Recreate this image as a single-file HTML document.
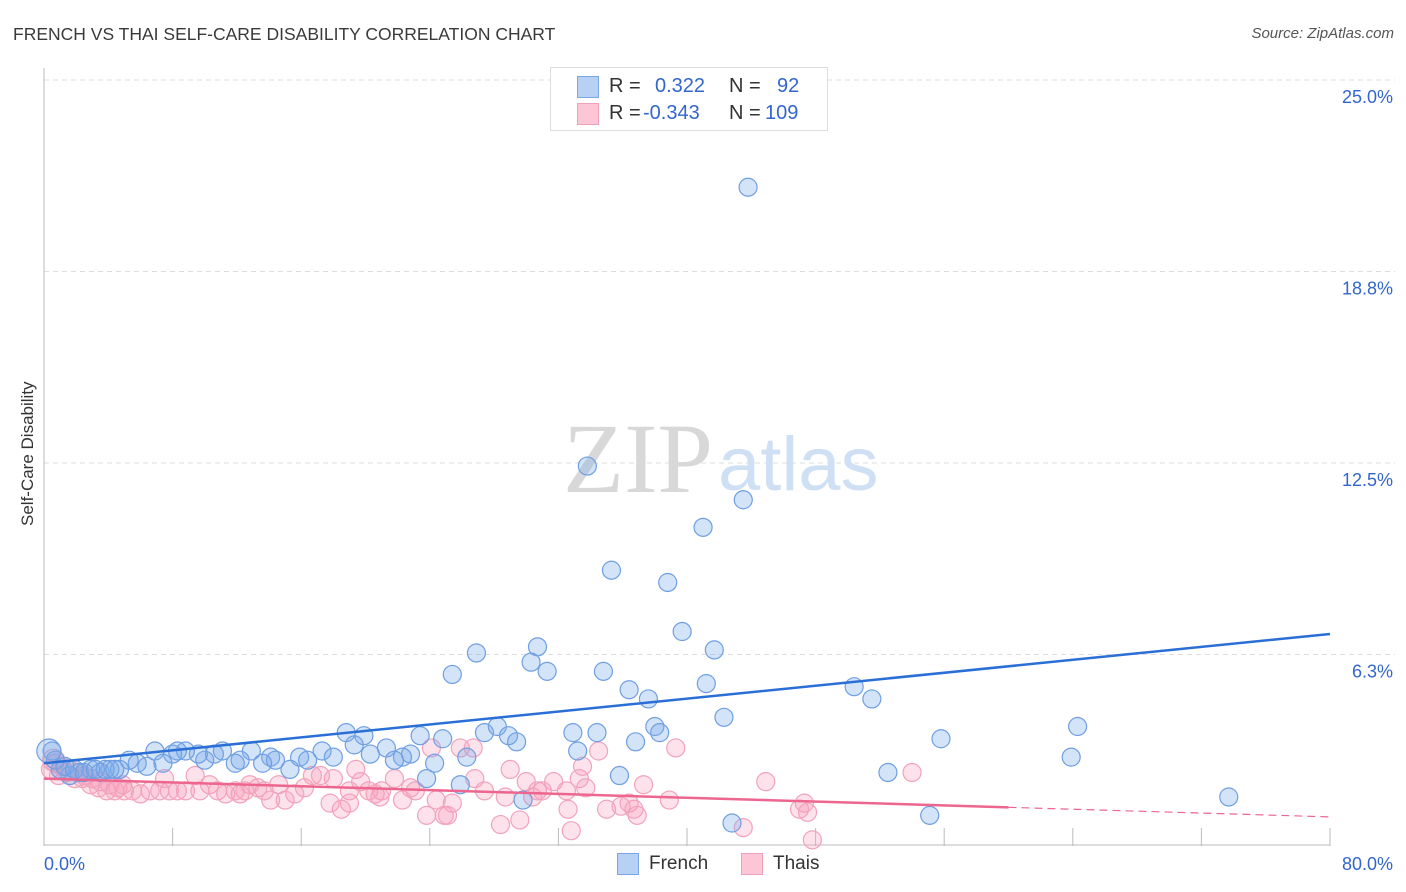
<!DOCTYPE html>
<html><head><meta charset="utf-8"><style>
body{margin:0;background:#fff;font-family:"Liberation Sans",sans-serif;}
#wrap{position:relative;width:1406px;height:892px;overflow:hidden}
.t{position:absolute;white-space:nowrap}
</style></head><body>
<div id="wrap">
<div class="t" style="left:13px;top:24px;font-size:17.5px;color:#3a3a3a">FRENCH VS THAI SELF-CARE DISABILITY CORRELATION CHART</div>
<div class="t" style="right:12px;top:25px;font-size:15px;color:#555;font-style:italic">Source: ZipAtlas.com</div>
<div class="t" style="left:-42px;top:446px;font-size:17px;color:#333;transform:rotate(-90deg);width:140px;text-align:center">Self-Care Disability</div>
<svg id="plot" width="1406" height="892" style="position:absolute;left:0;top:0"></svg>
<div style="position:absolute;left:550px;top:67px;width:276px;height:62px;border:1px solid #ddd;background:#fff;font-size:20px">
 <div style="position:absolute;left:26px;top:8px;width:20px;height:20px;background:#b7d1f5;border:1px solid #7aa5e6"></div>
 <div class="t" style="left:58px;top:7px;color:#333">R = </div><div class="t" style="left:104px;top:7px;color:#3366cc">0.322</div>
 <div class="t" style="left:178px;top:7px;color:#333">N = </div><div class="t" style="left:226px;top:7px;color:#3366cc">92</div>
 <div style="position:absolute;left:26px;top:35px;width:20px;height:20px;background:#fcc6d6;border:1px solid #f0a0b8"></div>
 <div class="t" style="left:58px;top:34px;color:#333">R = </div><div class="t" style="left:92px;top:34px;color:#3366cc">-0.343</div>
 <div class="t" style="left:178px;top:34px;color:#333">N = </div><div class="t" style="left:214px;top:34px;color:#3366cc">109</div>
</div>
<div>
 <div style="position:absolute;left:617px;top:853px;width:20px;height:20px;background:#b7d1f5;border:1px solid #7aa5e6"></div>
 <div class="t" style="left:649px;top:853px;font-size:19px;color:#333">French</div>
 <div style="position:absolute;left:741px;top:853px;width:20px;height:20px;background:#fcc6d6;border:1px solid #f0a0b8"></div>
 <div class="t" style="left:773px;top:853px;font-size:19px;color:#333">Thais</div>
</div>
</div>
<script>
const xTickLabels=["0.0%","80.0%"];
const yTicks=[25,18.75,12.5,6.25];
const yTickLabels=["25.0%","18.8%","12.5%","6.3%"];
const frenchX=[43.8,33.8,43.5,41.0,35.3,38.8,39.7,30.7,26.9,30.3,41.7,31.3,34.8,25.4,41.2,36.4,37.6,50.4,51.5,42.3,64.3,55.8,38.0,38.3,36.8,32.9,34.4,33.2,63.9,52.5,35.8,73.7,55.1,42.8,29.8,25.9,23.8,18.8,19.9,19.3,17.3,18.0,15.9,16.4,15.3,21.3,20.3,22.8,22.3,21.8,23.4,24.8,24.3,26.3,27.4,28.2,28.9,29.4,12.9,14.1,14.4,13.6,12.2,11.9,11.1,10.6,10.0,9.6,8.8,8.3,8.0,6.9,7.4,6.4,5.8,5.3,4.7,4.1,3.5,2.9,2.2,1.6,1.0,0.5,0.7,1.3,1.9,2.5,3.2,3.8,4.4,0.3];
const frenchY=[21.5,12.4,11.3,10.4,9.0,8.6,7.0,6.5,6.3,6.0,6.4,5.7,5.7,5.6,5.3,5.1,4.8,5.2,4.8,4.2,3.9,3.5,3.9,3.7,3.4,3.7,3.7,3.1,2.9,2.4,2.3,1.6,1.0,0.75,1.5,2.0,2.2,3.7,3.6,3.3,3.1,2.9,2.9,2.8,2.5,3.2,3.0,3.0,2.9,2.8,3.6,3.5,2.7,2.9,3.7,3.9,3.6,3.4,3.1,2.9,2.8,2.7,2.8,2.7,3.1,3.0,2.8,3.0,3.1,3.1,3.0,3.1,2.7,2.6,2.7,2.8,2.5,2.5,2.4,2.5,2.4,2.3,2.5,3.1,2.8,2.6,2.5,2.4,2.5,2.5,2.5,3.1];
const thaiX=[54.0,44.9,47.3,47.0,47.5,47.8,43.5,39.3,38.9,37.3,36.7,36.4,35.9,36.9,35.0,34.5,33.5,33.3,32.6,32.8,31.7,30.7,30.0,30.4,28.7,29.0,29.6,28.4,26.8,27.4,25.9,26.7,24.1,24.4,25.4,24.9,23.8,25.1,22.8,23.1,22.3,21.8,21.0,20.6,20.2,19.7,19.4,19.0,18.5,17.8,18.0,17.2,16.7,16.2,15.6,15.0,14.6,14.1,13.7,13.3,12.8,12.5,12.2,11.9,11.3,10.8,10.3,9.7,9.4,8.8,8.3,7.8,7.5,7.2,6.6,6.0,5.5,5.0,4.6,4.1,3.5,3.0,2.5,2.1,1.6,1.1,0.7,0.4,0.9,1.4,1.9,2.4,2.9,3.4,3.9,4.4,4.9,32.5,33.7,31.0,19.0,20.9,0.6];
const thaiY=[2.4,2.1,1.4,1.2,1.1,0.2,0.6,3.2,1.5,2.0,1.2,1.4,1.3,1.0,1.2,3.1,2.6,2.2,1.2,0.5,2.1,1.8,2.1,1.6,1.6,2.5,0.85,0.7,2.2,1.8,3.2,3.2,3.2,1.5,1.4,1.0,1.0,1.0,1.9,1.8,1.5,2.2,1.8,1.7,1.8,2.1,2.5,1.4,1.2,1.4,2.2,2.3,2.3,1.9,1.7,1.5,2.0,1.5,1.8,1.9,2.0,1.8,1.7,1.8,1.7,1.8,2.0,1.8,2.3,1.8,1.8,1.8,2.2,1.8,1.8,1.7,1.8,1.8,1.9,2.0,2.1,2.2,2.3,2.4,2.5,2.6,2.7,2.5,2.3,2.4,2.2,2.2,2.0,1.9,1.8,1.8,2.0,1.8,1.9,1.8,1.8,1.6,2.8];
const frenchTrend=[2.7,6.92];
const thaiTrend=[2.2,0.95];
const thaiSolidEnd=60;

const L=44,R=1330,T=80,B=846;
const sx=v=>L+v/80*(R-L);
const sy=v=>B-v/25*(B-T);
const svg=document.getElementById('plot');
const NS='http://www.w3.org/2000/svg';
function mk(tag,attrs){const e=document.createElementNS(NS,tag);for(const k in attrs)e.setAttribute(k,attrs[k]);svg.appendChild(e);return e;}
yTicks.forEach((v,i)=>{
 const g=mk('line',{x1:L,x2:1395,y1:sy(v),y2:sy(v),stroke:'#ddd','stroke-dasharray':'5,4'});
 
 
 const t=mk('text',{x:1393,y:sy(v)+23,'text-anchor':'end','font-size':18,fill:'#3366cc','font-family':'Liberation Sans'});
 t.textContent=yTickLabels[i];
 
 
});
const ax=mk('line',{x1:L,x2:R,y1:B-1,y2:B-1,stroke:'#bbb'});


const ay=mk('line',{x1:L,x2:L,y1:68,y2:B,stroke:'#bbb'});


for(let i=1;i<=10;i++){
 const tk=mk('line',{x1:sx(i*8),x2:sx(i*8),y1:B-18,y2:B,stroke:'#bbb'});
 
 
}
[[0,'start',L],[1,'end',1393]].forEach(([i,a,x])=>{
 const t=mk('text',{x:x,y:870,'text-anchor':a,'font-size':18,fill:'#3366cc','font-family':'Liberation Sans'});
 t.textContent=xTickLabels[i];
 
 
});
const w1=mk('text',{x:713,y:492,'text-anchor':'end','font-size':100,fill:'#d8d8d8','font-family':'Liberation Serif'});
w1.textContent='ZIP';


const w2=mk('text',{x:718,y:490,'font-size':76,fill:'#cfe0f5','font-family':'Liberation Sans'});
w2.textContent='atlas';


thaiX.forEach((x,i)=>{
 const c=mk('circle',{cx:sx(x),cy:sy(thaiY[i]),r:i==thaiX.length-1?11:9,fill:'rgba(248,160,188,0.3)',stroke:'#f2a3bb','stroke-width':1.2});
 
 
});
frenchX.forEach((x,i)=>{
 const c=mk('circle',{cx:sx(x),cy:sy(frenchY[i]),r:i==frenchX.length-1?12:9,fill:'rgba(120,170,235,0.33)',stroke:'#6f9fe2','stroke-width':1.2});
 
 
});
const fl=mk('line',{x1:sx(0),y1:sy(frenchTrend[0]),x2:sx(80),y2:sy(frenchTrend[1]),stroke:'#2a6fd6','stroke-width':2.5});


const ty=x=>thaiTrend[0]+(thaiTrend[1]-thaiTrend[0])*x/80;
const tl=mk('line',{x1:sx(0),y1:sy(ty(0)),x2:sx(thaiSolidEnd),y2:sy(ty(thaiSolidEnd)),stroke:'#ec6690','stroke-width':2.5});


const td=mk('line',{x1:sx(thaiSolidEnd),y1:sy(ty(thaiSolidEnd)),x2:sx(80),y2:sy(ty(80)),stroke:'#ec6690','stroke-width':1.2,'stroke-dasharray':'8,5'});


</script>
</body></html>
